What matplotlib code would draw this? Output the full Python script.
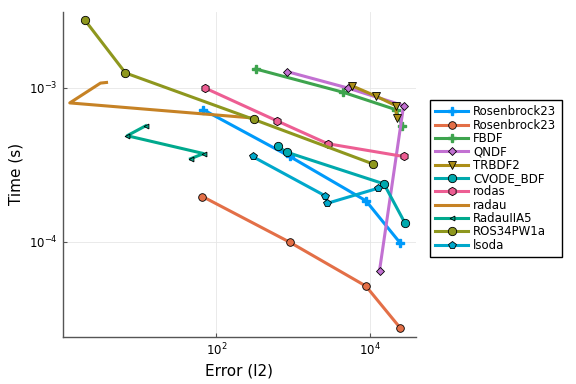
import matplotlib
matplotlib.use("Agg")
import matplotlib.pyplot as plt

# error (l2) and time (s) for each solver
names = ["Rosenbrock23", "Rosenbrock23", "FBDF", "QNDF", "TRBDF2", "CVODE_BDF",
         "rodas", "radau", "RadauIIA5", "ROS34PW1a", "lsoda"]

rosen_a_err = [67.4, 900, 8750, 24200]
rosen_a_t = [7.2e-4, 3.58e-4, 1.85e-4, 9.9e-5]
rosen_b_err = [66, 900, 8750, 24200]
rosen_b_t = [1.97e-4, 9.96e-5, 5.18e-5, 2.79e-5]
fbdf_err = [326, 4430, 21400, 25900]
fbdf_t = [1.32e-3, 9.33e-4, 7.2e-4, 5.67e-4]
qndf_err = [830, 5060, 27000, 13150]
qndf_t = [1.27e-3, 9.95e-4, 7.64e-4, 6.52e-5]
trbdf2_err = [5700, 12000, 21400, 21900]
trbdf2_t = [1.03e-3, 8.78e-4, 7.64e-4, 6.36e-4]
cvode_err = [624, 817, 15000, 28300]
cvode_t = [4.16e-4, 3.82e-4, 2.38e-4, 1.32e-4]
rodas_err = [71, 617, 2800, 27000]
rodas_t = [9.95e-4, 6.08e-4, 4.33e-4, 3.58e-4]
radau_err = [3.75, 3.13, 1.25, 272]
radau_t = [1.08e-3, 1.07e-3, 7.96e-4, 6.38e-4]
radau5_err = [12.1, 6.95, 68.2, 46.2]
radau5_t = [5.66e-4, 4.88e-4, 3.74e-4, 3.46e-4]
ros34_err = [1.96, 6.6, 307, 10700]
ros34_t = [2.74e-3, 1.245e-3, 6.22e-4, 3.21e-4]
lsoda_err = [295, 2590, 2750, 12600]
lsoda_t = [3.58e-4, 1.99e-4, 1.78e-4, 2.23e-4]

series = [(rosen_a_err, rosen_a_t), (rosen_b_err, rosen_b_t), (fbdf_err, fbdf_t),
          (qndf_err, qndf_t), (trbdf2_err, trbdf2_t), (cvode_err, cvode_t),
          (rodas_err, rodas_t), (radau_err, radau_t), (radau5_err, radau5_t),
          (ros34_err, ros34_t), (lsoda_err, lsoda_t)]

colors = ["#009AFA", "#E36F47", "#3EA44E", "#C271D2", "#AC8E18", "#00A9AD",
          "#ED5E93", "#C68225", "#00A98D", "#8E971E", "#00A8CB"]
markers = ["P", "o", "P", "D", "v", "o", "h", None, "<", "o", "p"]
msizes = [5.5, 5.5, 5.5, 4.5, 6, 6, 6, 0, 3.5, 6, 5.5]

fig = plt.figure(figsize=(5.76, 3.84), dpi=100)
ax = fig.add_axes([0.109, 0.123, 0.613, 0.847])

for (x, y), name, c, m, ms in zip(series, names, colors, markers, msizes):
    if m is None:
        ax.plot(x, y, color=c, lw=2.2, label=name)
    elif m == "P":
        ax.plot(x, y, color=c, lw=2.2, marker=m, ms=ms, mec=c, label=name)
    else:
        ax.plot(x, y, color=c, lw=2.2, marker=m, ms=ms, mec="black", mew=0.6, label=name)

ax.set_xscale("log")
ax.set_yscale("log")
ax.set_xlim(10**0.006, 10**4.591)
ax.set_ylim(10**-4.614, 10**-2.507)
ax.set_xticks([1e2, 1e4])
ax.set_yticks([1e-4, 1e-3])
ax.minorticks_off()
ax.grid(True, color="#e6e6e6", lw=0.6)
ax.set_axisbelow(True)
for s in ["top", "right"]:
    ax.spines[s].set_visible(False)
for s in ["left", "bottom"]:
    ax.spines[s].set_color("#555555")
    ax.spines[s].set_linewidth(1.0)
ax.tick_params(direction="in", length=3, labelsize=8.5, color="#555555")
ax.set_xlabel("Error (l2)", fontsize=11)
ax.set_ylabel("Time (s)", fontsize=11)

ax.legend(loc="upper left", bbox_to_anchor=(1.04, 0.728), fontsize=8.5, frameon=True,
          fancybox=False, edgecolor="black", framealpha=1, handlelength=2.8,
          labelspacing=0.03, borderpad=0.45, handletextpad=0.4, borderaxespad=0)

fig.savefig("out.png", dpi=100)
